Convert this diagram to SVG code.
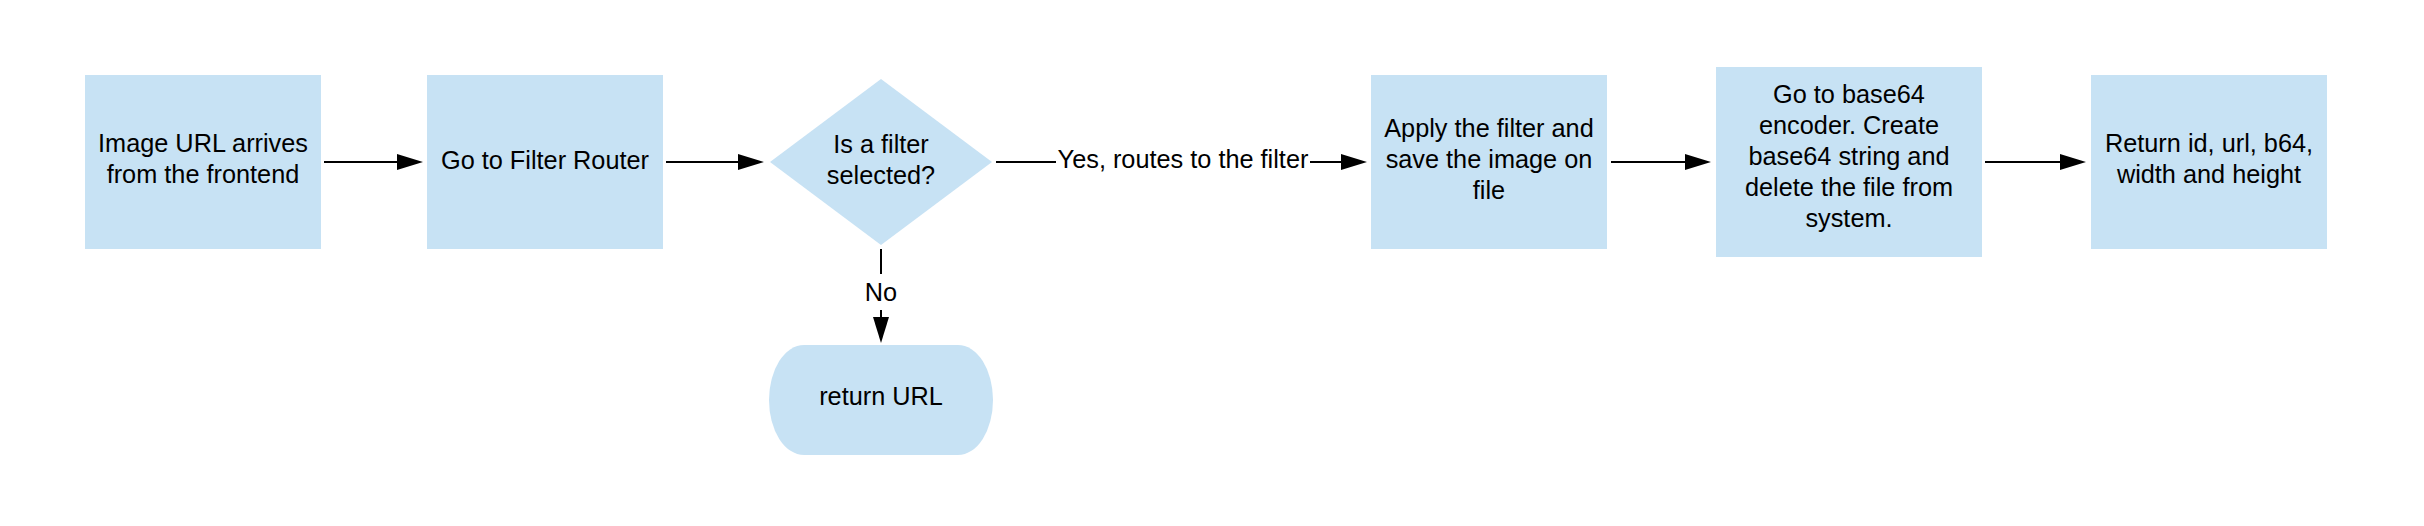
<svg xmlns="http://www.w3.org/2000/svg" width="2424" height="526" viewBox="0 0 2424 526">
<style>
.n{fill:#c7e2f4;stroke:none}
.t{font-family:"Liberation Sans",Arial,sans-serif;font-size:25.3px;fill:#000;text-anchor:middle}
.c{stroke:#000;stroke-width:2;fill:none}
.lb{fill:#fff}
</style>
<defs>
<marker id="ah" markerUnits="userSpaceOnUse" markerWidth="26" markerHeight="16" refX="0" refY="8" orient="auto" overflow="visible">
<path d="M0,0 L26,8 L0,16 Z" fill="#000"/>
</marker>
</defs>
<rect width="2424" height="526" fill="#fff"/>
<g id="n1"><rect class="n" x="85" y="75" width="236" height="174"/>
<text class="t" x="203" y="152">Image URL arrives</text><text class="t" x="203" y="183">from the frontend</text></g>
<g id="n2"><rect class="n" x="427" y="75" width="236" height="174"/>
<text class="t" x="545" y="169">Go to Filter Router</text></g>
<g id="n3"><polygon class="n" points="881,79 992,162 881,245 770,162"/>
<text class="t" x="881" y="153">Is a filter</text><text class="t" x="881" y="184">selected?</text></g>
<g id="n4"><rect class="n" x="769" y="345" width="224" height="110" rx="35" ry="55"/>
<text class="t" x="881" y="405">return URL</text></g>
<g id="n5"><rect class="n" x="1371" y="75" width="236" height="174"/>
<text class="t" x="1489" y="137">Apply the filter and</text><text class="t" x="1489" y="168">save the image on</text><text class="t" x="1489" y="199">file</text></g>
<g id="n6"><rect class="n" x="1716" y="67" width="266" height="190"/>
<text class="t" x="1849" y="103">Go to base64</text><text class="t" x="1849" y="134">encoder. Create</text><text class="t" x="1849" y="165">base64 string and</text><text class="t" x="1849" y="196">delete the file from</text><text class="t" x="1849" y="227">system.</text></g>
<g id="n7"><rect class="n" x="2091" y="75" width="236" height="174"/>
<text class="t" x="2209" y="152">Return id, url, b64,</text><text class="t" x="2209" y="183">width and height</text></g>
<g id="connectors">
<line class="c" x1="324" y1="162" x2="397" y2="162" marker-end="url(#ah)"/>
<line class="c" x1="666" y1="162" x2="738" y2="162" marker-end="url(#ah)"/>
<line class="c" x1="996" y1="162" x2="1341" y2="162" marker-end="url(#ah)"/>
<rect class="lb" x="1056" y="146" width="254" height="30"/>
<text class="t" x="1183" y="168">Yes, routes to the filter</text>
<line class="c" x1="881" y1="249" x2="881" y2="317" marker-end="url(#ah)"/>
<rect class="lb" x="866" y="274" width="30" height="36"/>
<text class="t" x="881" y="301">No</text>
<line class="c" x1="1611" y1="162" x2="1685" y2="162" marker-end="url(#ah)"/>
<line class="c" x1="1985" y1="162" x2="2060" y2="162" marker-end="url(#ah)"/>
</g>
</svg>
